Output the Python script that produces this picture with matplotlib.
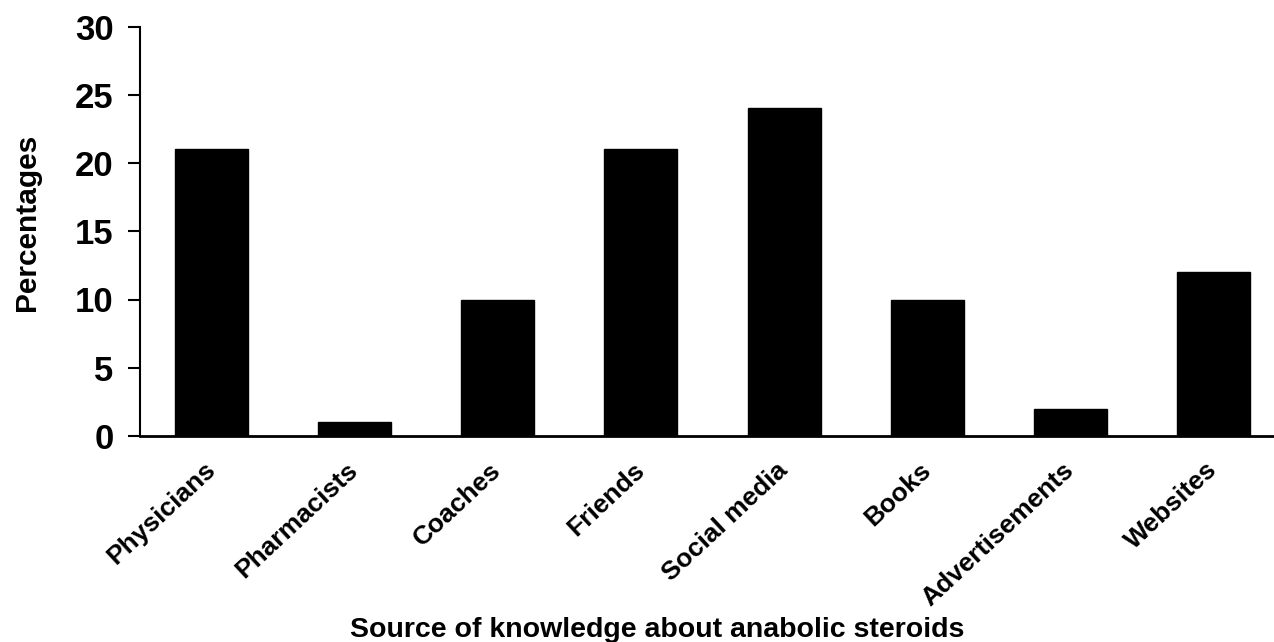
import matplotlib
matplotlib.use("Agg")
import matplotlib.pyplot as plt

categories = ["Physicians", "Pharmacists", "Coaches", "Friends", "Social media",
              "Books", "Advertisements", "Websites"]
percentages = [21, 1, 10, 21, 24, 10, 2, 12]
yticks = [0, 5, 10, 15, 20, 25, 30]

plt.rcParams['font.family'] = ['Liberation Sans', 'DejaVu Sans']
plt.rcParams['font.weight'] = 'bold'

fig = plt.figure(figsize=(12.74, 6.42), dpi=100)
ax = fig.add_axes([140/1274, 1 - 436/642, (1285 - 140)/1274, (436 - 26.5)/642])

x = list(range(len(categories)))
ax.bar(x, percentages, width=0.51, color='black', edgecolor='black', linewidth=1)

ax.set_xlim(-0.5, 7.5)
ax.set_ylim(0, 30)
ax.set_yticks(yticks)
ax.set_yticklabels([str(t) for t in yticks], fontsize=25, fontweight='bold')
ax.tick_params(axis='y', direction='out', length=9, width=1.5, pad=10)
ax.tick_params(axis='x', length=0, pad=22)
ax.set_xticks(x)
ax.set_xticklabels(categories, rotation=43, ha='right', va='center',
                   rotation_mode='anchor', fontsize=19, fontweight='bold')

for s in ['top', 'right']:
    ax.spines[s].set_visible(False)
ax.spines['left'].set_linewidth(1.5)
ax.spines['bottom'].set_linewidth(2)

fig.text(27/1274, 1 - 222/642, "Percentages", rotation=90,
         ha='center', va='center', fontsize=21.5, fontweight='bold')
fig.text(657/1274, 1 - 630/642, "Source of knowledge about anabolic steroids",
         ha='center', va='center', fontsize=20.5, fontweight='bold')

fig.savefig("out.png", dpi=100)
